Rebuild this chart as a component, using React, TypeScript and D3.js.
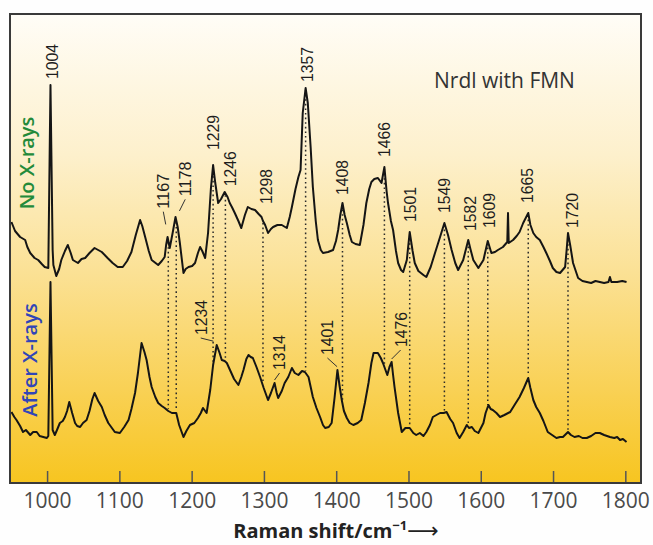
import * as d3 from "d3";
import React from "react";

const W = 653;
const H = 545;
const frame = { left: 10, top: 14, right: 641, bottom: 483 };

// Raman shift (cm-1) vs intensity (a.u.)
const noXrays: [number, number][] = [
  [950, 261], [955, 252], [962, 246], [969, 243], [972, 236], [976, 230], [982, 225], [987, 223],
  [992, 219], [996, 216], [1001, 215], [1004, 398], [1007, 233], [1008, 218], [1012, 207],
  [1016, 214], [1019, 223], [1024, 232], [1028, 238], [1032, 230], [1035, 223], [1042, 220],
  [1047, 224], [1052, 225], [1058, 230], [1065, 235], [1070, 233], [1075, 231], [1083, 225],
  [1090, 220], [1097, 216], [1104, 216], [1110, 222], [1116, 231], [1122, 248], [1128, 263],
  [1131, 257], [1135, 246], [1140, 232], [1144, 223], [1153, 218], [1158, 222], [1162, 226],
  [1164, 238], [1166, 246], [1169, 235], [1173, 250], [1177, 266], [1180, 256], [1183, 240],
  [1188, 210], [1191, 214], [1195, 216], [1200, 217], [1204, 220], [1208, 230], [1211, 236],
  [1214, 232], [1218, 225], [1222, 250], [1226, 295], [1229, 318], [1232, 300], [1236, 280],
  [1240, 284], [1245, 291], [1249, 286], [1252, 280], [1255, 276], [1259, 270], [1264, 262],
  [1268, 255], [1273, 268], [1277, 276], [1282, 274], [1287, 273], [1292, 269], [1296, 266],
  [1298, 262], [1301, 258], [1305, 250], [1309, 254], [1312, 256], [1318, 258], [1324, 258],
  [1331, 255], [1335, 266], [1338, 276], [1343, 294], [1347, 306], [1350, 313], [1353, 370],
  [1357, 395], [1360, 380], [1364, 335], [1367, 296], [1371, 262], [1374, 243], [1378, 233],
  [1381, 230], [1388, 231], [1395, 233], [1399, 242], [1402, 253], [1405, 268], [1408, 280],
  [1411, 268], [1414, 260], [1418, 248], [1421, 241], [1426, 239], [1432, 238], [1437, 258],
  [1441, 280], [1445, 294], [1448, 301], [1452, 304], [1457, 305], [1462, 300], [1466, 316],
  [1469, 292], [1471, 280], [1475, 262], [1478, 253], [1482, 232], [1485, 220], [1489, 213],
  [1492, 211], [1497, 223], [1501, 251], [1505, 232], [1508, 220], [1513, 212], [1520, 208],
  [1524, 206], [1530, 216], [1536, 230], [1543, 246], [1549, 260], [1554, 248], [1559, 233],
  [1564, 220], [1568, 213], [1575, 223], [1582, 243], [1585, 234], [1589, 223], [1596, 215],
  [1603, 223], [1609, 242], [1614, 230], [1619, 231], [1623, 233], [1630, 236], [1636, 241],
  [1637, 270], [1638, 240], [1644, 243], [1649, 247], [1653, 251], [1658, 260], [1665, 270],
  [1668, 258], [1672, 250], [1676, 246], [1681, 243], [1686, 236], [1690, 230], [1695, 222],
  [1699, 215], [1704, 211], [1709, 210], [1716, 216], [1718, 232], [1720, 250], [1723, 238],
  [1727, 220], [1734, 205], [1740, 202], [1746, 201], [1752, 200], [1758, 202], [1764, 201],
  [1770, 200], [1776, 201], [1778, 206], [1780, 201], [1788, 201], [1795, 202], [1801, 201],
];

const afterXrays: [number, number][] = [
  [950, 71], [954, 66], [957, 63], [962, 57], [966, 51], [970, 53], [976, 48], [980, 51],
  [985, 51], [989, 47], [994, 46], [999, 45], [1001, 47], [1004, 201], [1007, 53], [1010, 48],
  [1013, 53], [1017, 60], [1021, 62], [1024, 66], [1027, 72], [1030, 81], [1034, 70], [1038, 60],
  [1041, 57], [1045, 56], [1049, 60], [1054, 63], [1058, 72], [1062, 84], [1065, 90], [1070, 82],
  [1075, 76], [1079, 68], [1084, 60], [1088, 56], [1093, 51], [1100, 50], [1106, 56], [1112, 63],
  [1116, 74], [1121, 90], [1125, 110], [1130, 140], [1134, 131], [1137, 123], [1141, 106],
  [1144, 96], [1149, 86], [1153, 80], [1158, 77], [1162, 75], [1167, 72], [1172, 70], [1178, 70],
  [1182, 58], [1188, 46], [1192, 52], [1197, 58], [1203, 60], [1208, 65], [1212, 70], [1215, 75],
  [1220, 70], [1225, 93], [1229, 118], [1234, 138], [1238, 130], [1241, 123], [1245, 122],
  [1248, 120], [1253, 112], [1258, 104], [1264, 98], [1268, 106], [1271, 113], [1275, 124],
  [1278, 128], [1281, 126], [1284, 125], [1289, 116], [1294, 106], [1299, 95], [1305, 83],
  [1309, 90], [1314, 100], [1317, 90], [1319, 85], [1324, 92], [1328, 100], [1333, 106],
  [1338, 115], [1342, 110], [1347, 108], [1352, 112], [1356, 111], [1361, 106], [1364, 96],
  [1367, 86], [1372, 75], [1377, 66], [1381, 58], [1384, 55], [1389, 56], [1393, 60], [1397, 85],
  [1401, 113], [1404, 97], [1407, 83], [1410, 72], [1414, 65], [1418, 60], [1423, 58], [1429, 60],
  [1434, 63], [1439, 80], [1444, 100], [1448, 120], [1451, 130], [1457, 130], [1461, 125],
  [1464, 120], [1467, 114], [1470, 108], [1473, 116], [1476, 121], [1478, 108], [1480, 96],
  [1485, 70], [1490, 51], [1495, 55], [1501, 55], [1506, 50], [1510, 48], [1515, 50], [1520, 47],
  [1524, 51], [1529, 58], [1533, 66], [1538, 68], [1543, 70], [1548, 70], [1552, 71], [1557, 64],
  [1561, 60], [1566, 50], [1570, 45], [1575, 51], [1580, 58], [1583, 55], [1587, 56], [1591, 52],
  [1596, 50], [1603, 60], [1606, 70], [1610, 78], [1613, 74], [1616, 73], [1621, 70], [1626, 66],
  [1632, 68], [1640, 71], [1646, 78], [1653, 86], [1659, 95], [1665, 105], [1668, 95], [1672, 83],
  [1676, 76], [1681, 70], [1686, 62], [1692, 51], [1698, 48], [1704, 45], [1709, 46], [1713, 46],
  [1720, 51], [1724, 48], [1729, 46], [1735, 47], [1740, 45], [1746, 45], [1752, 47], [1758, 50],
  [1764, 50], [1770, 48], [1778, 46], [1784, 45], [1788, 46], [1792, 43], [1796, 44], [1801, 41],
];

const axisTicks = [1000, 1100, 1200, 1300, 1400, 1500, 1600, 1700, 1800];

// bands marked in both spectra (dotted guides)
const guideShifts = [1167, 1178, 1229, 1246, 1298, 1357, 1408, 1466, 1501, 1549, 1582, 1609, 1665, 1720];

const topPeaks = [1004, 1167, 1178, 1229, 1246, 1298, 1357, 1408, 1466, 1501, 1549, 1582, 1609, 1665, 1720];
const bottomPeaks = [1234, 1314, 1401, 1476];

// label layout: [px lift above curve, px sideways nudge, leader line]
const labelLayout: Record<number, [number, number, boolean]> = {
  1004: [6, 2, false], 1167: [32, -5, true], 1178: [24, 9, true], 1229: [15, 0, false],
  1246: [7, 5, false], 1298: [17, 3, false], 1357: [6, 1, false], 1408: [8, 0, false],
  1466: [10, 0, false], 1501: [10, 0, false], 1549: [10, 0, false], 1582: [9, 2, false],
  1609: [13, 1, false], 1665: [10, -1, false], 1720: [5, 4, false],
  1234: [10, -16, true], 1314: [13, 5, true], 1401: [15, -10, true], 1476: [15, 9, true],
};

const x = d3.scaleLinear().domain([948, 1821]).range([frame.left, frame.right]);
const y = d3.scaleLinear().domain([0, 469]).range([frame.bottom, frame.top]);

const line = d3.line<[number, number]>().x((d) => x(d[0])).y((d) => y(d[1]));

const valueAt = (data: [number, number][], s: number) => {
  const i = d3.bisector((d: [number, number]) => d[0]).left(data, s);
  if (i <= 0) return data[0][1];
  if (i >= data.length) return data[data.length - 1][1];
  const [x0, y0] = data[i - 1];
  const [x1, y1] = data[i];
  return y0 + ((s - x0) / (x1 - x0)) * (y1 - y0);
};

const PeakLabel = ({ shift, data }: { shift: number; data: [number, number][] }) => {
  const [lift, nudge, leader] = labelLayout[shift];
  const px = x(shift);
  const py = y(valueAt(data, shift));
  const lx = px + nudge;
  const lb = py - lift;
  let lead = null;
  if (leader) {
    const x0 = lx, y0 = lb + 3;
    const dx = px - x0, dy = py - 3 - y0;
    const len = Math.hypot(dx, dy);
    const k = Math.min(1, 13 / len);
    lead = <line x1={x0} y1={y0} x2={x0 + dx * k} y2={y0 + dy * k} stroke="#333" strokeWidth={1} />;
  }
  return (
    <g>
      {lead}
      <text
        transform={`translate(${lx},${lb}) rotate(-90)`}
        dy="0.35em"
        fontFamily="'Liberation Sans', Arial, sans-serif"
        fontSize={17}
        textLength={35}
        lengthAdjust="spacingAndGlyphs"
        fill="#1e1e1e"
      >
        {shift}
      </text>
    </g>
  );
};

export default function App() {
  return (
    <svg width={W} height={H} style={{ position: "absolute", left: 0, top: 0, display: "block", background: "#fefefe" }}>
      <defs>
        <linearGradient id="bg" x1="0" y1="0" x2="0" y2="1">
          <stop offset="0%" stopColor="#fffdf7" />
          <stop offset="30%" stopColor="#fdf0cc" />
          <stop offset="55%" stopColor="#fbe195" />
          <stop offset="80%" stopColor="#f9d155" />
          <stop offset="100%" stopColor="#f7c520" />
        </linearGradient>
      </defs>
      <rect
        x={frame.left}
        y={frame.top}
        width={frame.right - frame.left}
        height={frame.bottom - frame.top}
        fill="url(#bg)"
      />

      {/* dotted guides between matching bands */}
      {guideShifts.map((s) => (
        <line
          key={s}
          x1={x(s)}
          x2={x(s)}
          y1={y(valueAt(noXrays, s)) + 2}
          y2={y(valueAt(afterXrays, s)) - 2}
          stroke="#2a2a2a"
          strokeWidth={1.5}
          strokeDasharray="1.6 3"
        />
      ))}

      <path d={line(noXrays) || ""} fill="none" stroke="#151515" strokeWidth={2} strokeLinejoin="round" />
      <path d={line(afterXrays) || ""} fill="none" stroke="#151515" strokeWidth={2} strokeLinejoin="round" />

      {topPeaks.map((s) => <PeakLabel key={"t" + s} shift={s} data={noXrays} />)}
      {bottomPeaks.map((s) => <PeakLabel key={"b" + s} shift={s} data={afterXrays} />)}

      {axisTicks.map((t) => (
        <g key={t}>
          <line x1={x(t)} x2={x(t)} y1={frame.bottom} y2={frame.bottom - 12} stroke="#555" strokeWidth={1.5} />
          <text
            x={x(t)}
            y={508}
            textAnchor="middle"
            fontFamily="'Open Sans', sans-serif"
            fontSize={21}
            fill="#4a4a4a"
          >
            {t}
          </text>
        </g>
      ))}

      <rect
        x={frame.left}
        y={frame.top}
        width={frame.right - frame.left}
        height={frame.bottom - frame.top}
        fill="none"
        stroke="#3a3a3a"
        strokeWidth={2}
      />

      <text x={434} y={88} fontFamily="'Open Sans', sans-serif" fontWeight={500} fontSize={21} fill="#333">
        Nrdl with FMN
      </text>
      <text
        transform="translate(27,163) rotate(-90)"
        dy="0.35em"
        textAnchor="middle"
        fontFamily="'Open Sans', sans-serif"
        fontWeight={600}
        fontSize={20}
        fill="#238a3a"
      >
        No X-rays
      </text>
      <text
        transform="translate(30,360) rotate(-90)"
        dy="0.35em"
        textAnchor="middle"
        fontFamily="'Open Sans', sans-serif"
        fontWeight={600}
        fontSize={20}
        fill="#3045b8"
      >
        After X-rays
      </text>

      <text x={336} y={538} textAnchor="middle" fontFamily="'Open Sans', sans-serif" fontWeight="bold" fontSize={20} fill="#222">
        Raman shift/cm
        <tspan dy={-8} fontSize={13}>−1</tspan>
        <tspan dy={8} fontFamily="'DejaVu Sans', sans-serif" fontWeight="normal" fontSize={22}>⟶</tspan>
      </text>
    </svg>
  );
}
